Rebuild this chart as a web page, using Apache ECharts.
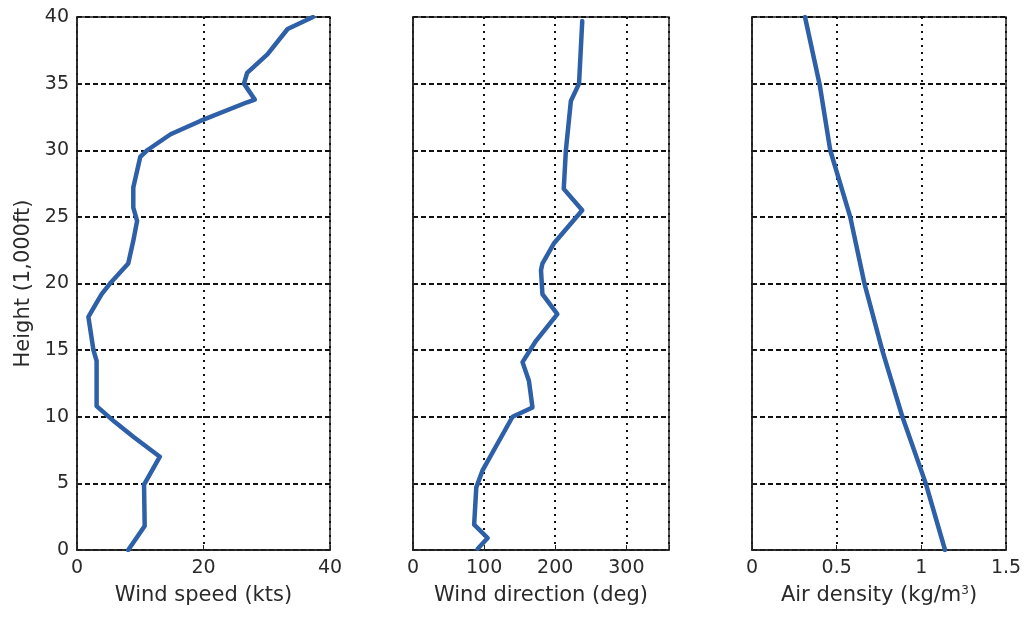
<!DOCTYPE html>
<html><head><meta charset="utf-8">
<script src="https://cdn.jsdelivr.net/npm/echarts@6/dist/echarts.min.js"></script>
<style>html,body{margin:0;padding:0;background:#fff}#c{width:1028px;height:628px}</style>
</head><body><div id="c"></div>
<script>
// Height (1,000 ft) ticks
const heightTicks = [0,5,10,15,20,25,30,35,40];
// Wind speed (kts) vs height
const speedX = [8.1,10.7,10.6,13.1,8.9,6.0,3.1,3.1,2.6,1.8,2.9,3.9,5.4,8.1,8.9,9.5,8.9,8.9,10.0,11.1,14.8,19.5,26.9,28.1,26.4,26.9,30.1,33.3,37.3];
const speedH = [0,1.8,4.9,7.0,8.5,9.6,10.8,14.2,15,17.5,18.4,19.2,20.1,21.5,23.2,24.7,25.7,27.2,29.5,30,31.2,32.2,33.6,33.8,35,35.8,37.2,39.1,40];
// Wind direction (deg) vs height
const dirX = [91,105,86,89,98,140,168,163,154,173,203,182,180,182,198,238,212,215,222,233.5,238];
const dirH = [0.1,0.9,1.9,4.7,6,10,10.7,12.7,14.1,15.7,17.7,19.2,21,21.5,23,25.5,27.1,30,33.7,35,39.7];
// Air density (kg/m3) vs height
const densX = [1.14,1.026,0.888,0.769,0.664,0.58,0.462,0.40,0.313];
const densH = [0,5,10,15,20,25,30,34.9,40];

const font = 'DejaVu Sans, Liberation Sans, sans-serif';
const txt = '#2a2a2a';
const lineColor = '#2e60a8';
const grids = [
  {left:77, top:17, width:253, height:533},
  {left:413, top:17, width:256, height:533},
  {left:752, top:17, width:254, height:533}
].map(g => Object.assign({show:true, borderColor:'#222', borderWidth:1.5, backgroundColor:'transparent'}, g));

function xAx(i, min, max, interval, name, fmt){
  return {gridIndex:i, type:'value', min, max, interval, name, nameLocation:'middle', nameGap:35,
    nameTextStyle:{fontFamily:font, fontSize:21, color:txt, rich:{sup:{fontSize:12, verticalAlign:'top', padding:[0,0,9,0], fontFamily:font, color:txt}, n:{fontFamily:font, fontSize:21, color:txt}}},
    axisLine:{show:true, lineStyle:{color:'#222', width:1.5}},
    axisTick:{show:true, inside:true, length:5, lineStyle:{color:'#222'}},
    axisLabel:{fontFamily:font, fontSize:19, color:txt, margin:9, formatter:fmt},
    splitLine:{show:true, lineStyle:{type:[2,5], color:'#111', width:2}}};
}
function yAx(i, labels){
  return {gridIndex:i, type:'value', min:0, max:40, interval:5,
    name: labels ? 'Height (1,000ft)' : '', nameLocation:'middle', nameGap:43,
    nameTextStyle:{fontFamily:font, fontSize:21, color:txt},
    axisLine:{show:true, lineStyle:{color:'#222', width:1.5}},
    axisTick:{show:true, inside:true, length:5, lineStyle:{color:'#222'}},
    axisLabel:{show:labels, fontFamily:font, fontSize:19, color:txt, margin:8},
    splitLine:{show:true, lineStyle:{type:[5,3], color:'#111', width:2}}};
}
function pairs(xs, hs){ return xs.map((x,k)=>[x, hs[k]]); }
function ser(i, xs, hs){
  return {type:'line', xAxisIndex:i, yAxisIndex:i, data:pairs(xs,hs), showSymbol:false, symbol:'none',
    lineStyle:{color:lineColor, width:4.5, join:'round', cap:'round'}, z:5, animation:false};
}
const chart = echarts.init(document.getElementById('c'));
chart.setOption({
  backgroundColor:'#fff',
  animation:false,
  grid: grids,
  xAxis:[
    xAx(0,0,40,20,'Wind speed (kts)'),
    xAx(1,0,360,100,'Wind direction (deg)', v => v>300 ? '' : String(v)),
    xAx(2,0,1.5,0.5,'{n|Air density (kg/m}{sup|3}{n|)}', v => String(v))
  ],
  yAxis:[yAx(0,true), yAx(1,false), yAx(2,false)],
  series:[ser(0,speedX,speedH), ser(1,dirX,dirH), ser(2,densX,densH)]
});
</script></body></html>
